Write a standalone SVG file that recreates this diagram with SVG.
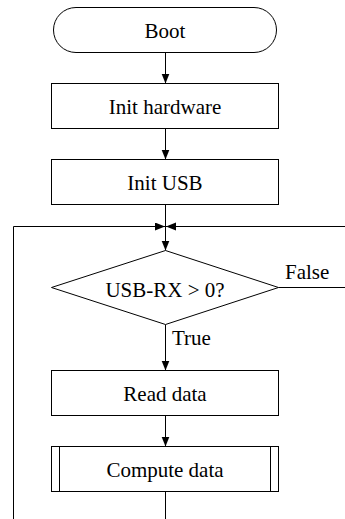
<svg xmlns="http://www.w3.org/2000/svg" width="345" height="519" viewBox="0 0 345 519">
<style>
.n{fill:#fff;stroke:#000;stroke-width:1}
.c{fill:none;stroke:#000;stroke-width:1}
.m{text-anchor:middle}
</style>
<defs>
<marker id="ah" markerUnits="userSpaceOnUse" markerWidth="11" markerHeight="9" refX="10" refY="4" orient="auto">
<path d="M0,0 L10,4 L0,8 z" fill="#000"/>
</marker>
</defs>
<rect width="345" height="519" fill="#fff"/>
<g font-family="'Liberation Serif', 'Times New Roman', serif" font-size="21" fill="#000">
<g id="connectors">
<line class="c" x1="165.5" y1="52.5" x2="165.5" y2="83.5" marker-end="url(#ah)"/>
<line class="c" x1="165.5" y1="128.5" x2="165.5" y2="159.5" marker-end="url(#ah)"/>
<line class="c" x1="165.5" y1="204.5" x2="165.5" y2="250.5" marker-end="url(#ah)"/>
<line class="c" x1="165.5" y1="324.5" x2="165.5" y2="370.5" marker-end="url(#ah)"/>
<line class="c" x1="165.5" y1="415.5" x2="165.5" y2="446.5" marker-end="url(#ah)"/>
<line class="c" x1="165.5" y1="491.5" x2="165.5" y2="519"/>
<path class="c" d="M13.5,519 V226.5 H165" marker-end="url(#ah)"/>
<path class="c" d="M278.5,287.5 H345"/>
<path class="c" d="M345,226.5 H166" marker-end="url(#ah)"/>
<text x="285" y="278.5">False</text>
<text x="172" y="344.5">True</text>
</g>
<g id="boot">
<rect class="n" x="53.5" y="7.5" width="223" height="45" rx="22.5" ry="22.5"/>
<text class="m" x="165" y="38">Boot</text>
</g>
<g id="init-hardware">
<rect class="n" x="51.5" y="83.5" width="227" height="45"/>
<text class="m" x="165" y="114">Init hardware</text>
</g>
<g id="init-usb">
<rect class="n" x="51.5" y="159.5" width="227" height="45"/>
<text class="m" x="165" y="189.5">Init USB</text>
</g>
<g id="decision">
<polygon class="n" points="165.5,250.5 278.5,287.5 165.5,324.5 51.5,287.5"/>
<text class="m" x="165" y="296.5">USB-RX &gt; 0?</text>
</g>
<g id="read-data">
<rect class="n" x="51.5" y="370.5" width="227" height="45"/>
<text class="m" x="165" y="400.5">Read data</text>
</g>
<g id="compute-data">
<rect class="n" x="51.5" y="446.5" width="227" height="45"/>
<line class="c" x1="59.5" y1="446.5" x2="59.5" y2="491.5"/>
<line class="c" x1="270.5" y1="446.5" x2="270.5" y2="491.5"/>
<text class="m" x="165" y="476.5">Compute data</text>
</g>
</g>
</svg>
